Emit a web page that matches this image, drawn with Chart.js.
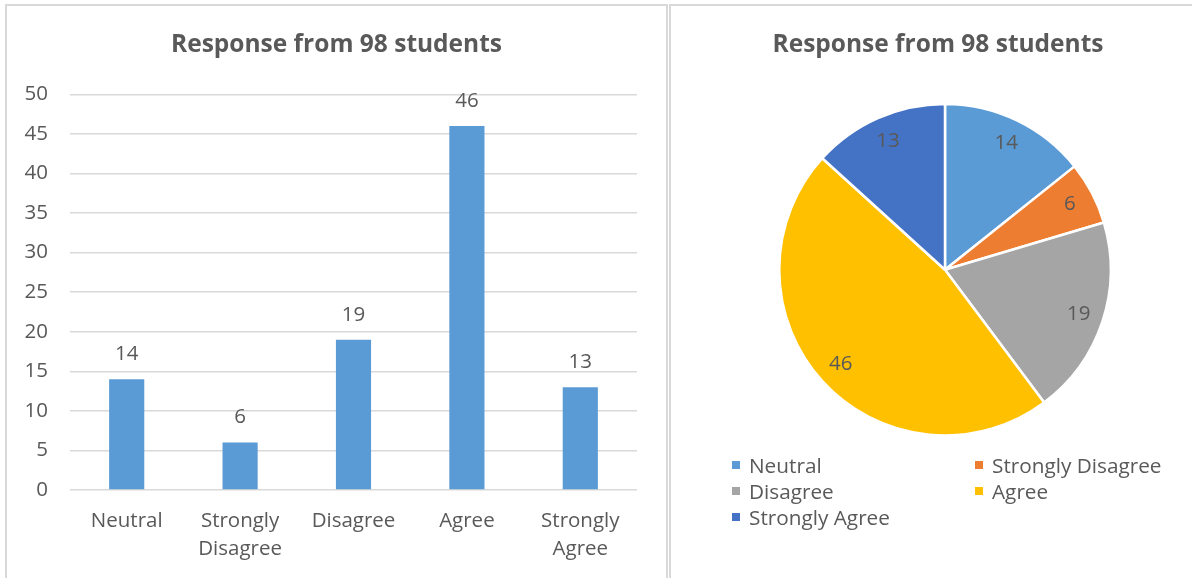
<!DOCTYPE html>
<html>
<head>
<meta charset="utf-8">
<script src="https://cdn.jsdelivr.net/npm/chart.js@4.4.1/dist/chart.umd.min.js"></script>
<style>
  html, body { margin: 0; padding: 0; background: #ffffff; }
  body { width: 1192px; height: 578px; position: relative; overflow: hidden; font-family: "Open Sans", sans-serif; }
  .panel { position: absolute; border: 2px solid #D9D9D9; box-sizing: border-box; background: #fff; }
  #leftPanel { left: 5px; top: 4px; width: 663px; height: 580px; }
  #rightPanel { left: 669px; top: 4px; width: 530px; height: 580px; }
  .cv { position: absolute; }
  #legend { position: absolute; left: 732px; top: 452px; width: 460px; font-size: 20.75px; color: #595959; line-height: 26px; }
  .item { position: absolute; white-space: nowrap; }
  .sw { display: inline-block; width: 8px; height: 8px; margin-right: 9px; vertical-align: middle; position: relative; top: -2px; }
</style>
</head>
<body>
<div class="panel" id="leftPanel"></div>
<div class="panel" id="rightPanel"></div>
<canvas id="bar" class="cv" style="left:6px;top:5px;" width="661" height="573"></canvas>
<canvas id="pie" class="cv" style="left:677px;top:5px;" width="522" height="573"></canvas>
<div id="legend"></div>
<script>
const chartTitle = "Response from 98 students";
const categories = ["Neutral", "Strongly Disagree", "Disagree", "Agree", "Strongly Agree"];
const barLabels = [["Neutral"], ["Strongly", "Disagree"], ["Disagree"], ["Agree"], ["Strongly", "Agree"]];
const responses = [14, 6, 19, 46, 13];
const yTicks = [0, 5, 10, 15, 20, 25, 30, 35, 40, 45, 50];
const sliceColors = ["#5B9BD5", "#ED7D31", "#A5A5A5", "#FFC000", "#4472C4"];

const textColor = "#595959";
const fontFamily = "'Open Sans', sans-serif";

// invisible spacer axis used only to reserve room beside the plot
function spacerAxis(position, width) {
  return {
    type: 'linear',
    position: position,
    display: true,
    grid: { display: false, drawTicks: false },
    border: { display: false },
    ticks: { display: false },
    afterFit(scale) { scale.width = width; }
  };
}

const barValueLabels = {
  id: 'barValueLabels',
  afterDatasetsDraw(chart) {
    const ctx = chart.ctx;
    const meta = chart.getDatasetMeta(0);
    ctx.save();
    ctx.font = "20.5px " + fontFamily;
    ctx.fillStyle = textColor;
    ctx.textAlign = "center";
    ctx.textBaseline = "middle";
    meta.data.forEach((el, i) => {
      ctx.fillText(String(chart.data.datasets[0].data[i]), el.x, el.y - 25);
    });
    ctx.restore();
  }
};

const pieValueLabels = {
  id: 'pieValueLabels',
  afterDatasetsDraw(chart) {
    const ctx = chart.ctx;
    const meta = chart.getDatasetMeta(0);
    ctx.save();
    ctx.font = "20.5px " + fontFamily;
    ctx.fillStyle = textColor;
    ctx.textAlign = "center";
    ctx.textBaseline = "middle";
    meta.data.forEach((el, i) => {
      const p = el.getProps(['x', 'y', 'startAngle', 'endAngle', 'outerRadius'], true);
      const mid = (p.startAngle + p.endAngle) / 2;
      const r = p.outerRadius * 0.85;
      ctx.fillText(String(chart.data.datasets[0].data[i]), p.x + Math.cos(mid) * r, p.y + Math.sin(mid) * r);
    });
    ctx.restore();
  }
};

new Chart(document.getElementById('bar'), {
  type: 'bar',
  data: {
    labels: barLabels,
    datasets: [{
      data: responses,
      backgroundColor: sliceColors[0],
      barPercentage: 0.62,
      categoryPercentage: 0.5
    }]
  },
  options: {
    responsive: false,
    animation: false,
    events: [],
    layout: { padding: { left: 0, right: 0, top: 0, bottom: 0 } },
    plugins: {
      legend: { display: false },
      tooltip: { enabled: false },
      title: {
        display: true,
        text: chartTitle,
        color: textColor,
        font: { family: fontFamily, size: 24.5, weight: 'bold' },
        padding: { top: 25.5, bottom: 34.5 }
      }
    },
    scales: {
      x: {
        afterFit(scale) { scale.height = 88; },
        grid: { display: false, drawTicks: false },
        border: { display: false },
        ticks: {
          color: textColor,
          font: { family: fontFamily, size: 20.5, lineHeight: 1.36 },
          padding: 17,
          maxRotation: 0,
          autoSkip: false
        }
      },
      y: {
        min: 0,
        max: 50,
        afterFit(scale) { scale.width = 64; },
        afterBuildTicks(scale) { scale.ticks = yTicks.map(v => ({ value: v })); },
        grid: { color: "#D9D9D9", lineWidth: 1.5, drawTicks: false },
        border: { display: false },
        ticks: {
          color: textColor,
          font: { family: fontFamily, size: 20.5 },
          padding: 22
        }
      },
      rightSpace: spacerAxis('right', 30)
    }
  },
  plugins: [barValueLabels]
});

new Chart(document.getElementById('pie'), {
  type: 'pie',
  data: {
    labels: categories,
    datasets: [{
      data: responses,
      backgroundColor: sliceColors,
      borderColor: "#ffffff",
      borderWidth: 2.5
    }]
  },
  options: {
    responsive: false,
    animation: false,
    events: [],
    layout: { padding: { left: 0, right: 0, top: 0, bottom: 141 } },
    scales: {
      leftSpace: spacerAxis('left', 101),
      rightSpace: spacerAxis('right', 87)
    },
    plugins: {
      legend: { display: false },
      tooltip: { enabled: false },
      title: {
        display: true,
        text: chartTitle,
        color: textColor,
        font: { family: fontFamily, size: 24.5, weight: 'bold' },
        padding: { top: 25.5, bottom: 42.5 }
      }
    }
  },
  plugins: [pieValueLabels]
});

// HTML legend for pie (two columns)
const legend = document.getElementById('legend');
categories.forEach((c, i) => {
  const d = document.createElement('div');
  d.className = 'item';
  d.style.left = (i % 2 === 0 ? 0 : 243) + 'px';
  d.style.top = (Math.floor(i / 2) * 26) + 'px';
  d.innerHTML = '<span class="sw" style="background:' + sliceColors[i] + '"></span>' + c;
  legend.appendChild(d);
});
</script>
</body>
</html>
